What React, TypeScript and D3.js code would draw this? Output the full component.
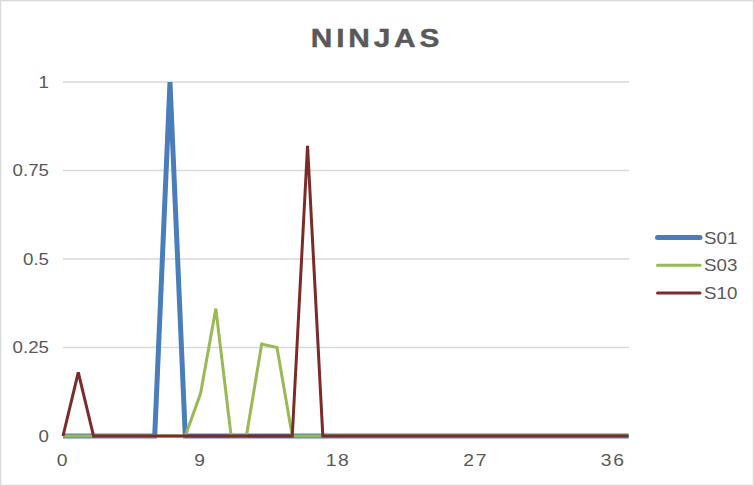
import React from "react";
import * as d3 from "d3";

const xValues: number[] = Array.from({ length: 38 }, (_, i) => i);
const s01: number[] = [0,0,0,0,0,0,0,1,0,0,0,0,0,0,0,0,0,0,0,0,0,0,0,0,0,0,0,0,0,0,0,0,0,0,0,0,0,0];
const s03: number[] = [0,0,0,0,0,0,0,0,0,0.12,0.36,0,0,0.26,0.25,0,0,0,0,0,0,0,0,0,0,0,0,0,0,0,0,0,0,0,0,0,0,0];
const s10: number[] = [0,0.18,0,0,0,0,0,0,0,0,0,0,0,0,0,0,0.82,0,0,0,0,0,0,0,0,0,0,0,0,0,0,0,0,0,0,0,0,0];
const seriesNames = ["S01", "S03", "S10"];
const seriesColors = ["#4a7ebb", "#98b954", "#7d2b2a"];
const seriesWidths = [5, 3, 3];
const xTicks = [0, 9, 18, 27, 36];
const yTicks = [0, 0.25, 0.5, 0.75, 1];
const yTickLabels = ["0", "0.25", "0.5", "0.75", "1"];

const SX = 1.17;

function T(props: { x: number; y: number; anchor?: string; size: number; bold?: boolean; spacing?: number; sx?: number; stroke?: number; children: React.ReactNode }) {
  const { x, y, anchor = "start", size, bold, spacing = 0, sx = SX, stroke = 0, children } = props;
  return (
    <g transform={`translate(${x},${y}) scale(${sx},1)`}>
      <text x={0} y={0} dy="0.35em" textAnchor={anchor as any} fontSize={size} fontWeight={bold ? "bold" : "normal"} fill="#595959"
        stroke={stroke ? "#595959" : "none"} strokeWidth={stroke} letterSpacing={spacing}>
        {children}
      </text>
    </g>
  );
}

export default function App() {
  const W = 754, H = 486;
  const x = d3.scaleLinear().domain([0, 37]).range([63, 628.5]);
  const y = d3.scaleLinear().domain([0, 1]).range([436, 82]);
  const data = [s01, s03, s10];
  const line = d3.line<number>().x((_, i) => x(xValues[i])).y((d) => y(d));
  const font = "'Liberation Sans', Arial, Helvetica, sans-serif";
  return (
    <svg width={W} height={H} style={{ position: "absolute", left: 0, top: 0 }} fontFamily={font}>
      <rect x={0} y={0} width={W} height={H} fill="#fff" />
      <rect x={0.5} y={0.5} width={W - 1} height={H - 1} fill="none" stroke="#d9d9d9" strokeWidth={1.5} />
      <T x={377} y={37.5} anchor="middle" size={26} bold spacing={3.3} sx={1.15} stroke={0.4}>NINJAS</T>
      {yTicks.map((t, i) => (
        <g key={i}>
          {t > 0 && <line x1={63} x2={629} y1={y(t)} y2={y(t)} stroke="#d9d9d9" strokeWidth={1.5} />}
          <T x={49} y={y(t)} anchor="end" size={16}>{yTickLabels[i]}</T>
        </g>
      ))}
      <line x1={63} x2={629} y1={y(0)} y2={y(0)} stroke="#d9d9d9" strokeWidth={1.5} />
      {xTicks.map((t) => (
        <T key={t} x={x(t)} y={460} anchor="middle" size={16.5} spacing={1.5}>{t}</T>
      ))}
      {data.map((d, i) => (
        <path key={i} d={line(d) || ""} fill="none" stroke={seriesColors[i]} strokeWidth={seriesWidths[i]} strokeLinejoin="miter" strokeLinecap="butt" />
      ))}
      {seriesNames.map((n, i) => (
        <g key={n}>
          <line x1={657.5} x2={700} y1={237.5 + i * 27.7} y2={237.5 + i * 27.7} stroke={seriesColors[i]} strokeWidth={seriesWidths[i]} strokeLinecap="round" />
          <T x={704} y={238 + i * 27.7} size={16}>{n}</T>
        </g>
      ))}
    </svg>
  );
}
